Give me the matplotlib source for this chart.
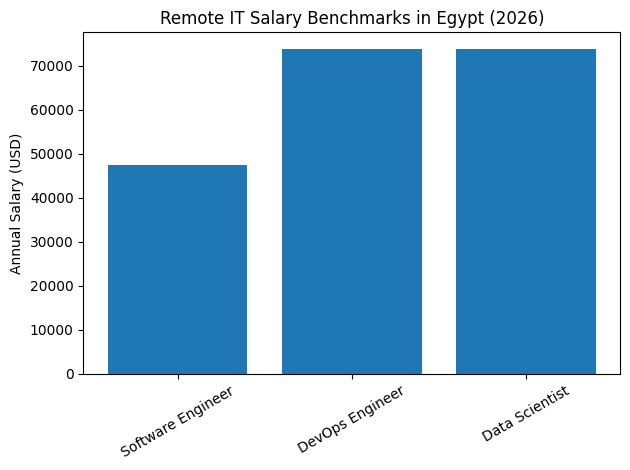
import matplotlib
matplotlib.use("Agg")
import matplotlib.pyplot as plt

roles = ["Software Engineer", "DevOps Engineer", "Data Scientist"]
salaries = [47350, 73850, 73850]

fig, ax = plt.subplots(figsize=(6.3, 4.7), dpi=100)
ax.bar(roles, salaries, color="#1f77b4")
ax.set_title("Remote IT Salary Benchmarks in Egypt (2026)")
ax.set_ylabel("Annual Salary (USD)")
plt.xticks(rotation=30)
fig.subplots_adjust(left=0.1323, right=0.9847, bottom=0.2043, top=0.9313)
fig.savefig("out.png")
